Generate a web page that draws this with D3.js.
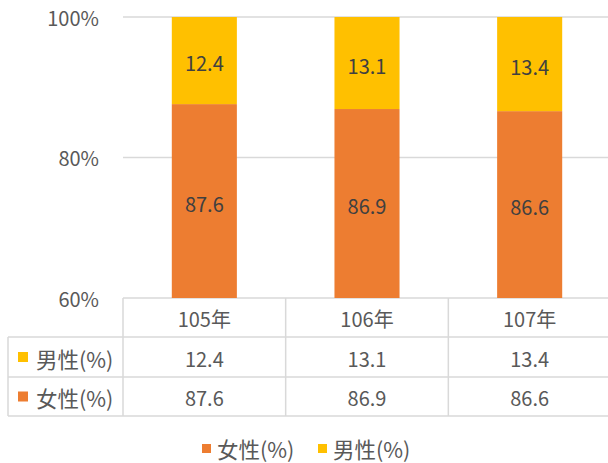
<!DOCTYPE html>
<html>
<head>
<meta charset="utf-8">
<script src="https://cdn.jsdelivr.net/npm/d3@7"></script>
<style>
  html, body { margin: 0; padding: 0; background: #fff; }
  svg { display: block; }
  text { font-family: "Noto Sans CJK TC", "Noto Sans", sans-serif; }
</style>
</head>
<body>
<svg id="chart" width="608" height="463"></svg>
<script>
// Years and percentages by sex
const years = ["105年", "106年", "107年"];
const female = [87.6, 86.9, 86.6];
const male = [12.4, 13.1, 13.4];
const yTicks = [60, 80, 100];
const seriesNames = ["女性(%)", "男性(%)"];
const colors = { female: "#ED7D31", male: "#FFC000" };

const svg = d3.select("#chart");
const plotLeft = 123, plotRight = 611;
const plotTop = 17, plotBottom = 298;
const rowEdges = [298, 337, 377, 416];
const tableLeft = 8;
const gridColor = "#D9D9D9";
const numSize = 20, cjkSize = 21.5;

const x = d3.scaleBand().domain(years).range([plotLeft, plotRight])
  .paddingInner(0.6).paddingOuter(0.3);
const y = d3.scaleLinear().domain([60, 100]).range([plotBottom, plotTop]);

// gridlines
svg.append("g").selectAll("line").data(yTicks).join("line")
  .attr("x1", plotLeft).attr("x2", plotRight)
  .attr("y1", d => y(d)).attr("y2", d => y(d))
  .attr("stroke", gridColor).attr("stroke-width", 1.5);

// y-axis labels
svg.append("g").selectAll("text").data(yTicks).join("text")
  .attr("x", 99).attr("y", d => y(d))
  .attr("text-anchor", "end").attr("dominant-baseline", "central")
  .attr("font-size", numSize).attr("fill", "#595959")
  .text(d => d + "%");

const rows = years.map((yr, i) => ({ yr, f: female[i], m: male[i] }));

// stacked bars (female below, male on top)
const bars = svg.append("g");
bars.selectAll("rect.f").data(rows).join("rect").attr("class", "f")
  .attr("x", d => x(d.yr)).attr("width", x.bandwidth())
  .attr("y", d => y(d.f)).attr("height", d => y(60) - y(d.f))
  .attr("fill", colors.female);
bars.selectAll("rect.m").data(rows).join("rect").attr("class", "m")
  .attr("x", d => x(d.yr)).attr("width", x.bandwidth())
  .attr("y", d => y(d.f + d.m)).attr("height", d => y(d.f) - y(d.f + d.m))
  .attr("fill", colors.male);

// value labels inside bars
const lbl = svg.append("g").attr("font-size", numSize).attr("fill", "#404040")
  .attr("text-anchor", "middle").attr("dominant-baseline", "central");
lbl.selectAll("text.f").data(rows).join("text").attr("class", "f")
  .attr("x", d => x(d.yr) + x.bandwidth() / 2)
  .attr("y", d => (y(60) + y(d.f)) / 2 + 2)
  .text(d => d.f.toFixed(1));
lbl.selectAll("text.m").data(rows).join("text").attr("class", "m")
  .attr("x", d => x(d.yr) + x.bandwidth() / 2)
  .attr("y", d => (y(d.f) + y(d.f + d.m)) / 2 + 2)
  .text(d => d.m.toFixed(1));

// data table
const step = x.step();
const colEdges = years.map((d, i) => plotLeft + i * step).concat([plotLeft + years.length * step]);
const tbl = svg.append("g").attr("stroke", gridColor).attr("stroke-width", 1.5);
colEdges.forEach(cx => {
  tbl.append("line").attr("x1", cx).attr("x2", cx).attr("y1", rowEdges[0]).attr("y2", rowEdges[3]);
});
tbl.append("line").attr("x1", tableLeft).attr("x2", tableLeft).attr("y1", rowEdges[1]).attr("y2", rowEdges[3]);
rowEdges.slice(1).forEach(ry => {
  tbl.append("line").attr("x1", tableLeft).attr("x2", plotRight).attr("y1", ry).attr("y2", ry);
});

const cellText = svg.append("g").attr("font-size", numSize).attr("fill", "#595959")
  .attr("text-anchor", "middle").attr("dominant-baseline", "central");
const rowMid = i => (rowEdges[i] + rowEdges[i + 1]) / 2;
years.forEach((yr, i) => {
  const cx = x(yr) + x.bandwidth() / 2;
  cellText.append("text").attr("x", cx).attr("y", rowMid(0) + 1).text(yr);
  cellText.append("text").attr("x", cx).attr("y", rowMid(1) + 1).text(male[i].toFixed(1));
  cellText.append("text").attr("x", cx).attr("y", rowMid(2) + 1).text(female[i].toFixed(1));
});

// row headers with series keys
const rowKeys = [
  { name: seriesNames[1], color: colors.male, row: 1 },
  { name: seriesNames[0], color: colors.female, row: 2 }
];
rowKeys.forEach(k => {
  svg.append("rect").attr("x", 18).attr("y", rowMid(k.row) - 5)
    .attr("width", 10).attr("height", 10).attr("fill", k.color);
  svg.append("text").attr("x", 36).attr("y", rowMid(k.row) + 1)
    .attr("dominant-baseline", "central").attr("font-size", cjkSize).attr("fill", "#595959")
    .text(k.name);
});

// legend
const legend = [
  { name: seriesNames[0], color: colors.female, x: 202 },
  { name: seriesNames[1], color: colors.male, x: 318 }
];
legend.forEach(l => {
  svg.append("rect").attr("x", l.x).attr("y", 444)
    .attr("width", 9).attr("height", 9).attr("fill", l.color);
  svg.append("text").attr("x", l.x + 15).attr("y", 448)
    .attr("dominant-baseline", "central").attr("font-size", cjkSize).attr("fill", "#595959")
    .text(l.name);
});
</script>
</body>
</html>
